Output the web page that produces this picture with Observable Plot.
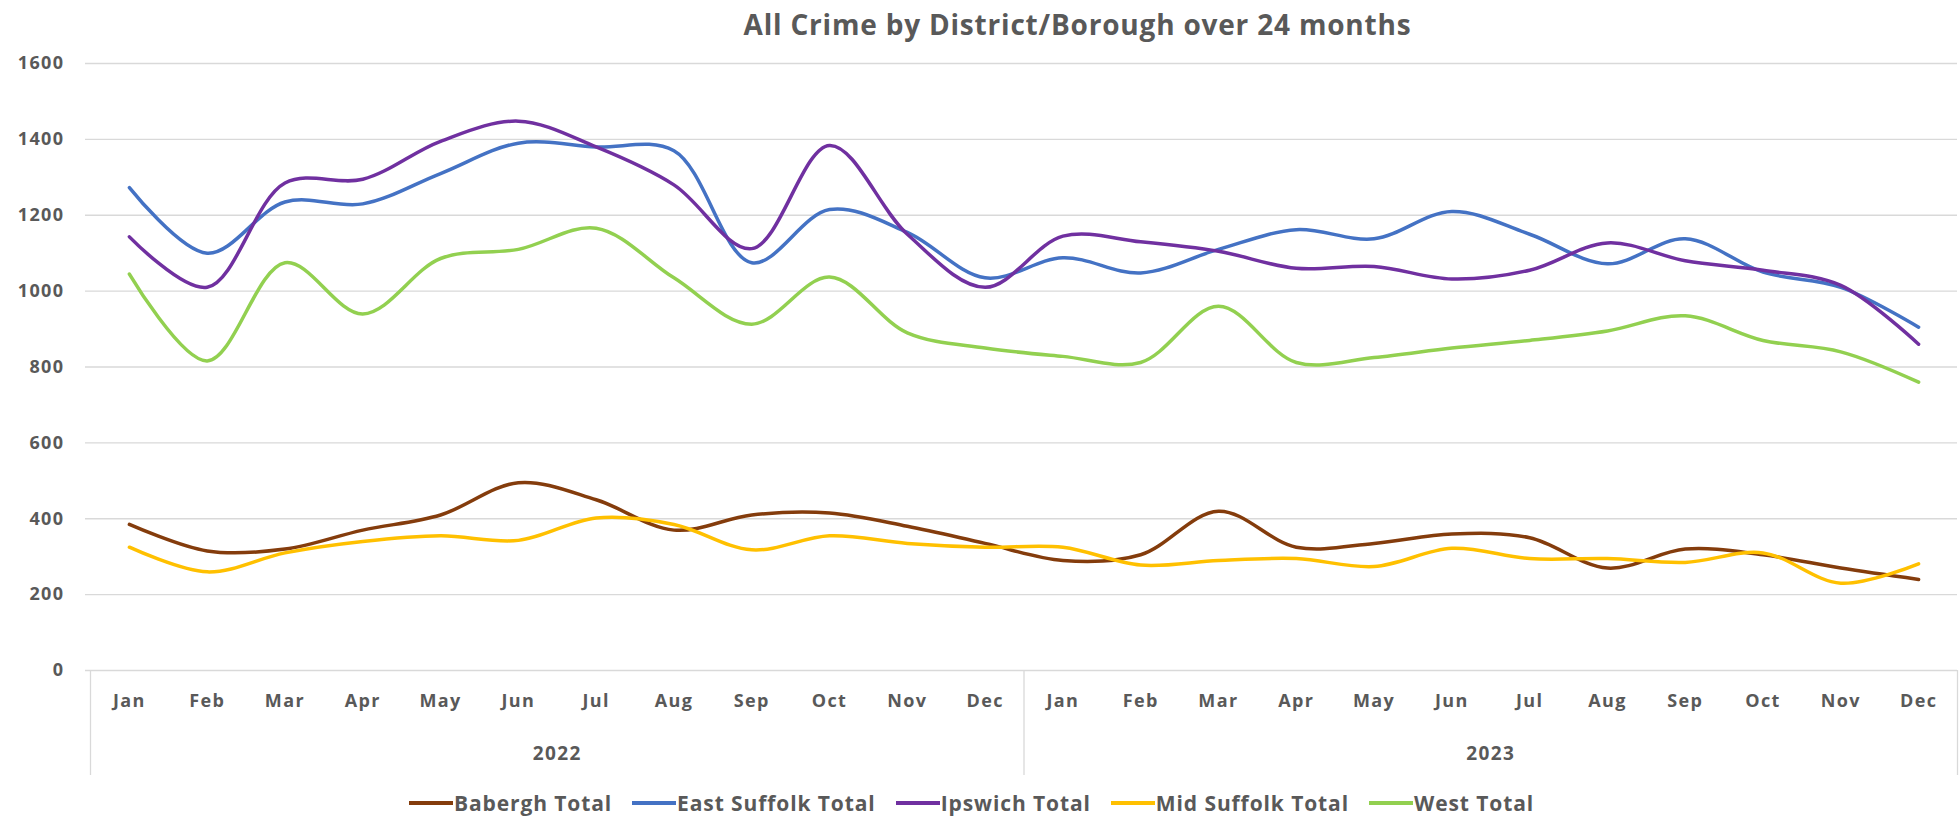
<!DOCTYPE html>
<html>
<head>
<meta charset="utf-8">
<script src="https://cdn.jsdelivr.net/npm/d3@7"></script>
<script src="https://cdn.jsdelivr.net/npm/@observablehq/plot@0.6"></script>
<style>
  html, body { margin: 0; padding: 0; background: #fff; }
  body { width: 1959px; height: 821px; overflow: hidden; font-family: "Open Sans", sans-serif; color: #595959; }
  #title { height: 45px; line-height: 48px; text-align: center; padding-left: 196px; box-sizing: border-box; width: 1959px;
           font-size: 28px; letter-spacing: 0.8px; font-weight: 700; color: #595959; white-space: nowrap; }
  #chart svg { display: block; }
  #chart svg text { letter-spacing: 1.4px; }
  #legend { display: flex; justify-content: center; align-items: center; height: 36px; width: 1959px; padding-right: 16px; box-sizing: border-box;
            font-size: 21px; letter-spacing: 0.9px; font-weight: 700; color: #595959; }
  .item { display: flex; align-items: center; margin: 0 10px; }
  .sw { width: 44px; height: 4px; margin-right: 1px; }
</style>
</head>
<body>
<div id="title">All Crime by District/Borough over 24 months</div>
<div id="chart"></div>
<div id="legend"></div>
<script>
const months = ["Jan","Feb","Mar","Apr","May","Jun","Jul","Aug","Sep","Oct","Nov","Dec"];
const years = ["2022", "2023"];
const seriesNames = ["Babergh Total", "East Suffolk Total", "Ipswich Total", "Mid Suffolk Total", "West Total"];
const seriesColors = ["#843C0C", "#4472C4", "#7030A0", "#FFC000", "#92D050"];
const yTicks = [0, 200, 400, 600, 800, 1000, 1200, 1400, 1600];

const babergh     = [385, 315, 320, 370, 410, 495, 450, 370, 410, 415, 380, 335, 290, 305, 420, 325, 335, 360, 350, 270, 320, 305, 270, 240];
const eastSuffolk = [1273, 1100, 1235, 1230, 1310, 1390, 1380, 1370, 1075, 1215, 1155, 1035, 1088, 1048, 1110, 1162, 1138, 1210, 1150, 1072, 1138, 1050, 1010, 905];
const ipswich     = [1143, 1010, 1285, 1295, 1395, 1448, 1380, 1280, 1112, 1384, 1150, 1010, 1145, 1130, 1105, 1060, 1065, 1032, 1055, 1127, 1080, 1055, 1015, 860];
const midSuffolk  = [325, 260, 310, 340, 355, 343, 402, 385, 318, 355, 335, 325, 325, 278, 290, 295, 274, 322, 295, 295, 285, 310, 230, 281];
const west        = [1045, 816, 1075, 940, 1086, 1110, 1166, 1035, 913, 1037, 890, 850, 828, 812, 960, 812, 825, 850, 870, 895, 935, 870, 840, 760];

const seriesValues = [babergh, eastSuffolk, ipswich, midSuffolk, west];

// Build long table from the arrays
const rows = [];
seriesNames.forEach((name, s) => {
  seriesValues[s].forEach((v, i) => rows.push({series: name, i, month: months[i % 12], year: years[Math.floor(i / 12)], value: v}));
});
const idx = d3.range(24);
const yearLabels = years.map((y, k) => ({x: k * 12 + 5.5, label: y}));
const separators = [-0.5, 11.5, 23.5];

const chart = Plot.plot({
  width: 1959,
  height: 740,
  marginTop: 18,
  marginBottom: 115,
  marginLeft: 90,
  marginRight: 2,
  style: {fontFamily: "Open Sans, sans-serif", fontSize: "18px", fontWeight: "700", color: "#595959", background: "#fff"},
  x: {domain: [-0.5, 23.5], axis: null, label: null},
  y: {domain: [0, 1600], axis: null, label: null},
  color: {domain: seriesNames, range: seriesColors},
  marks: [
    Plot.ruleY(yTicks.slice(1), {stroke: "#D9D9D9", strokeWidth: 1.3, insetLeft: -5}),
    Plot.ruleY([0], {stroke: "#D9D9D9", strokeWidth: 1.3, insetLeft: -5}),
    Plot.ruleX(separators, {y1: 0, y2: 0, insetBottom: -105, stroke: "#D9D9D9", strokeWidth: 1.3}),
    Plot.axisY({ticks: yTicks, tickFormat: d => String(d), label: null, tickSize: 0, tickPadding: 26, fontSize: 18, fontWeight: 700, fill: "#595959"}),
    Plot.axisX({ticks: idx, tickFormat: i => months[i % 12], label: null, tickSize: 0, tickPadding: 24, fontSize: 18, fontWeight: 700, fill: "#595959"}),
    Plot.text(yearLabels, {x: "x", y: () => 0, text: "label", dy: 83, fontSize: 19, fontWeight: 700, fill: "#595959"}),
    Plot.line(rows, {x: "i", y: "value", z: "series", stroke: "series", strokeWidth: 3.5, curve: "catmull-rom"})
  ]
});
document.getElementById("chart").appendChild(chart);

const legend = document.getElementById("legend");
seriesNames.forEach((name, k) => {
  const it = document.createElement("div");
  it.className = "item";
  const sw = document.createElement("span");
  sw.className = "sw";
  sw.style.background = seriesColors[k];
  const tx = document.createElement("span");
  tx.textContent = name;
  it.appendChild(sw); it.appendChild(tx);
  legend.appendChild(it);
});
</script>
</body>
</html>
